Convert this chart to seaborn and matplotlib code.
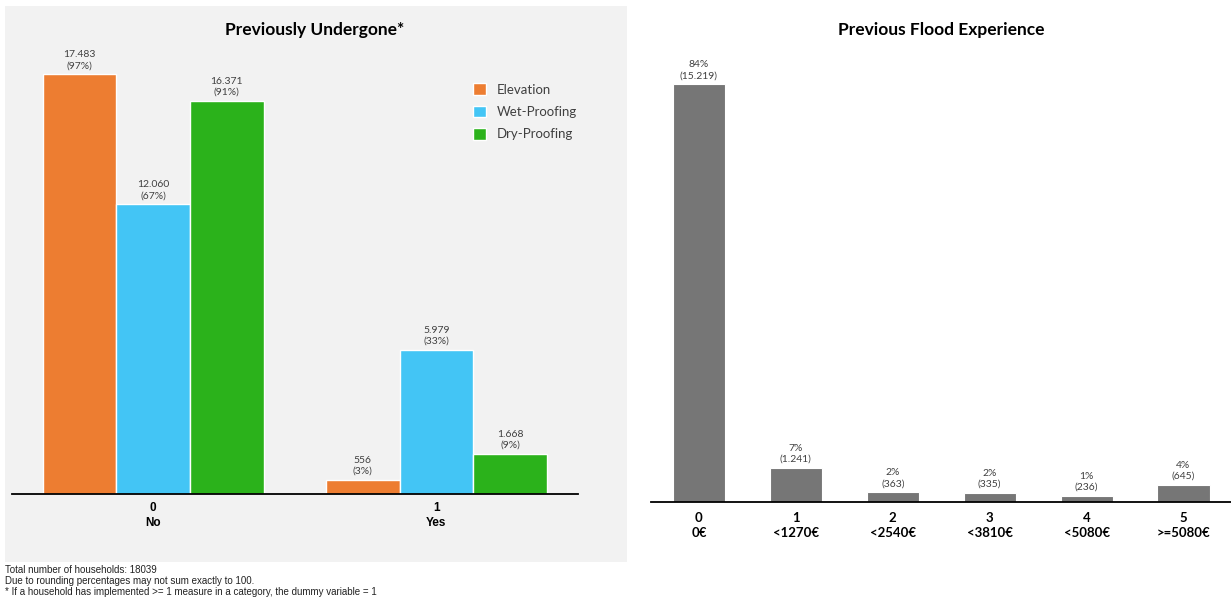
import matplotlib
matplotlib.use("Agg")
import matplotlib.pyplot as plt
import matplotlib.patches as mpatches
import seaborn as sns
import pandas as pd

# Measures previously undergone (household counts)
undergone_codes = ["0", "1"]
undergone_names = ["No", "Yes"]
measures = ["Elevation", "Wet-Proofing", "Dry-Proofing"]
elevation = [17483, 556]
wet_proofing = [12060, 5979]
dry_proofing = [16371, 1668]

# Previous flood experience (household counts)
flood_codes = ["0", "1", "2", "3", "4", "5"]
flood_names = ["0€", "<1270€", "<2540€", "<3810€", "<5080€", ">=5080€"]
flood_counts = [15219, 1241, 363, 335, 236, 645]

total_households = 18039
footnotes = [
    "Total number of households: 18039",
    "Due to rounding percentages may not sum exactly to 100.",
    "* If a household has implemented >= 1 measure in a category, the dummy variable = 1",
]

measure_colors = ["#ED7D31", "#43C5F5", "#2BB21B"]
flood_color = "#767676"
panel_bg = "#F2F2F2"
label_color = "#404040"

sns.set_theme(style="white")
plt.rcParams["font.family"] = ["Lato", "DejaVu Sans"]
ARIAL = ["Liberation Sans", "DejaVu Sans"]


def thousands(v):
    return f"{v:,}".replace(",", ".")


def pct(v):
    return round(100 * v / total_households)


W, H = 1231, 600
fig = plt.figure(figsize=(W / 100, H / 100), dpi=100)

# grey panel behind the left chart
fig.patches.append(mpatches.Rectangle((5 / W, 1 - 562 / H), 622 / W, 556 / H,
                                      transform=fig.transFigure, facecolor=panel_bg,
                                      edgecolor="none", zorder=-5))

# ---------- left chart ----------
ax1 = fig.add_axes([12 / W, 1 - 493.5 / H, 566 / W, 431.5 / H])
ax1.set_facecolor("none")
df1 = pd.DataFrame({
    "code": undergone_codes * 3,
    "measure": [m for m in measures for _ in undergone_codes],
    "count": elevation + wet_proofing + dry_proofing,
})
sns.barplot(data=df1, x="code", y="count", hue="measure", order=undergone_codes,
            hue_order=measures, palette=measure_colors, width=0.78, saturation=1,
            edgecolor="white", linewidth=1, ax=ax1)
ax1.set_ylim(0, 18000)
ax1.set_xlim(-0.499, 1.5)
series = [elevation, wet_proofing, dry_proofing]
for cont, vals in zip(ax1.containers, series):
    ax1.bar_label(cont, labels=[f"{thousands(v)}\n({pct(v)}%)" for v in vals],
                  padding=3, fontsize=7.5, color=label_color, linespacing=1.25)
ax1.set_xticks(range(len(undergone_codes)))
ax1.set_xticklabels([f"{c}\n{n}" for c, n in zip(undergone_codes, undergone_names)],
                    fontsize=8.5, fontweight="bold", color="black", linespacing=1.4,
                    family=ARIAL)
ax1.tick_params(axis="x", length=0, pad=6)
ax1.set_yticks([])
ax1.set_xlabel("")
ax1.set_ylabel("")
for s in ["top", "right", "left"]:
    ax1.spines[s].set_visible(False)
ax1.spines["bottom"].set_color("black")
ax1.spines["bottom"].set_linewidth(1.3)
fig.text(315 / W, 1 - 30 / H, "Previously Undergone*", fontsize=12.5,
         fontweight="bold", color="black", ha="center", va="center")
leg = ax1.legend(loc="upper left", bbox_to_anchor=(468 / W, 1 - 78 / H),
                 bbox_transform=fig.transFigure, frameon=False, fontsize=9.5,
                 handlelength=1.0, handleheight=1.0, labelspacing=0.75,
                 handletextpad=0.8, borderaxespad=0, title=None)
for t in leg.get_texts():
    t.set_color(label_color)

# ---------- right chart ----------
ax2 = fig.add_axes([651 / W, 1 - 502.3 / H, 580 / W, 439.5 / H])
ax2.set_facecolor("none")
df2 = pd.DataFrame({"code": flood_codes, "count": flood_counts})
sns.barplot(data=df2, x="code", y="count", order=flood_codes, color=flood_color,
            width=0.537, saturation=1, edgecolor="white", linewidth=0.8, ax=ax2)
ax2.set_ylim(0, 16000)
ax2.set_xlim(-0.495, 5.49)
ax2.bar_label(ax2.containers[0],
              labels=[f"{pct(v)}%\n({thousands(v)})" for v in flood_counts],
              padding=3, fontsize=7.5, color=label_color, linespacing=1.25)
ax2.set_xticks(range(len(flood_codes)))
ax2.set_xticklabels([f"{c}\n{n}" for c, n in zip(flood_codes, flood_names)],
                    fontsize=9.5, fontweight="bold", color="black", linespacing=1.25)
ax2.tick_params(axis="x", length=0, pad=7)
ax2.set_yticks([])
ax2.set_xlabel("")
ax2.set_ylabel("")
for s in ["top", "right", "left"]:
    ax2.spines[s].set_visible(False)
ax2.spines["bottom"].set_color("black")
ax2.spines["bottom"].set_linewidth(1.3)
fig.text(941 / W, 1 - 30 / H, "Previous Flood Experience", fontsize=12.5,
         fontweight="bold", color="black", ha="center", va="center")

# footnotes
for i, line in enumerate(footnotes):
    fig.text(5 / W, 1 - (570 + 11 * i) / H, line, fontsize=7,
             family=ARIAL, color="#222222", ha="left", va="center")

fig.savefig("out.png", dpi=100)
